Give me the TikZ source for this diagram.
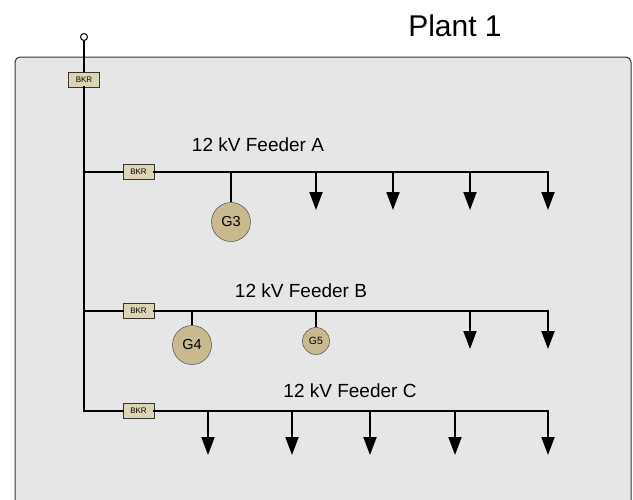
\documentclass[tikz,border=0pt]{standalone}
\usepackage{fontspec}
\setmainfont{Liberation Sans}
\usetikzlibrary{arrows.meta}
\definecolor{panelgray}{HTML}{E6E6E6}
\definecolor{bkrtan}{HTML}{DDD4B5}
\definecolor{gentan}{HTML}{C8B991}
\begin{document}
\begin{tikzpicture}[x=1pt,y=-1pt,
        bus/.style={line width=2pt,line cap=rect},
        load/.style={-{Triangle[width=13pt,length=18pt]}},
        bkr/.style={draw=black!80,fill=bkrtan,minimum width=31pt,minimum height=15pt,inner sep=0pt,font=\fontsize{8}{8}\selectfont},
        gen/.style={draw=black!80,fill=gentan,circle,inner sep=0pt},
        lbl/.style={font=\fontsize{19}{19}\selectfont}]
    \useasboundingbox (0,0) rectangle (633,499);
    \draw[black!80,fill=panelgray,line width=1pt,rounded corners=5pt] (15,57) rectangle (631,530);
    \node[font=\fontsize{30}{30}\selectfont] (plant) at (455,26) {Plant 1};
    \node[draw,fill=white,circle,inner sep=0pt,minimum size=7pt,line width=1pt] (src) at (84,37) {};
    \node[bkr] (bkrm) at (84,79.5) {BKR};
    \coordinate (ja) at (84,172);
    \coordinate (jb) at (84,311);
    \coordinate (jc) at (84,411);
    \draw[bus,line cap=butt] (src) -- (bkrm);
    \draw[bus] (bkrm) -- (jc);
    \node[bkr] (bkra) at (138.5,172) {BKR};
    \node[bkr] (bkrb) at (138.5,311) {BKR};
    \node[bkr] (bkrc) at (138.5,411) {BKR};
    \coordinate (ea) at (548,172);
    \coordinate (eb) at (548,311);
    \coordinate (ec) at (548,411);
    \draw[bus] (ja) -- (bkra) -- (ea);
    \draw[bus] (jb) -- (bkrb) -- (eb);
    \draw[bus] (jc) -- (bkrc) -- (ec);
    \node[lbl] (lbla) at (258,145) {12 kV Feeder A};
    \node[lbl] (lblb) at (301,291) {12 kV Feeder B};
    \node[lbl] (lblc) at (350,391) {12 kV Feeder C};
    \foreach \x in {316,393,470,548}
        \draw[bus,load] (\x,172) coordinate (ta\x) -- (\x,210) coordinate (la\x);
    \foreach \x in {470,548}
        \draw[bus,load] (\x,311) coordinate (tb\x) -- (\x,349) coordinate (lb\x);
    \foreach \x in {208,292,370,455,548}
        \draw[bus,load] (\x,411) coordinate (tc\x) -- (\x,455) coordinate (lc\x);
    \node[gen,minimum size=39pt,font=\fontsize{14.5}{14.5}\selectfont] (g3) at (231,222) {G3};
    \node[gen,minimum size=39pt,font=\fontsize{14.5}{14.5}\selectfont] (g4) at (192,345) {G4};
    \node[gen,minimum size=27pt,font=\fontsize{10.5}{10.5}\selectfont] (g5) at (316,341) {G5};
    \draw[bus,line cap=butt] (g3 |- ea) -- (g3);
    \draw[bus,line cap=butt] (g4 |- eb) -- (g4);
    \draw[bus,line cap=butt] (g5 |- eb) -- (g5);
\end{tikzpicture}
\end{document}
